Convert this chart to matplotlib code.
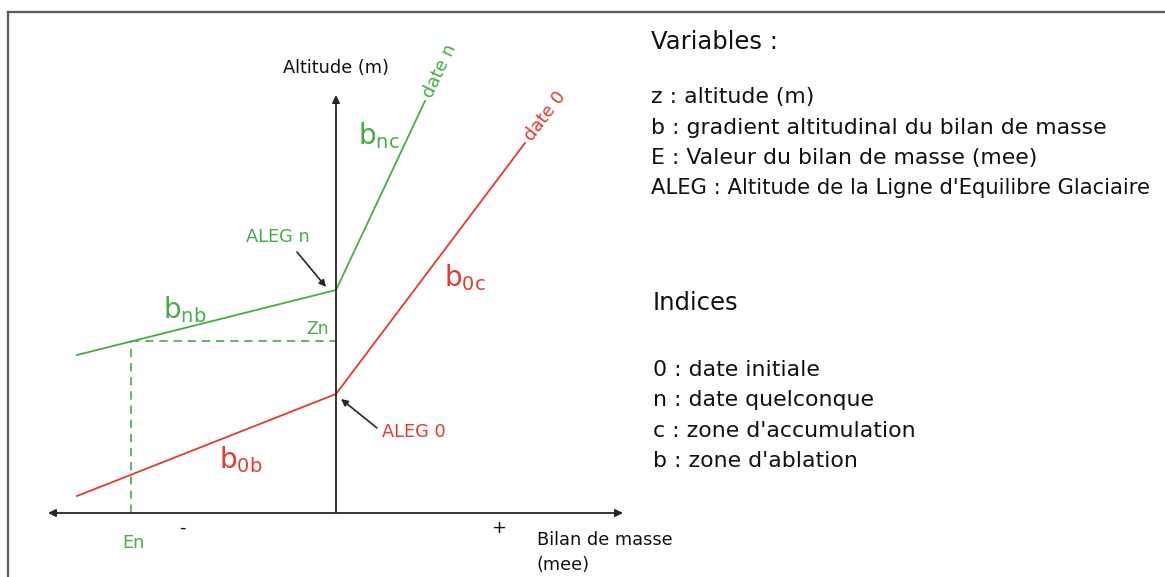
import numpy as np
import matplotlib
matplotlib.use("Agg")
import matplotlib.pyplot as plt
from matplotlib.lines import Line2D

plt.rcParams['font.family'] = ['DejaVu Sans']
plt.rcParams['mathtext.fontset'] = 'custom'
plt.rcParams['mathtext.rm'] = 'DejaVu Sans'

# ---- data (schematic units: mass balance on x, altitude on z) ----
bilan_n = [-259, 0, 89]      # date n : ablation start, ALEG n, accumulation end
alt_n = [158, 223, 412]
bilan_0 = [-259, 0, 189]     # date 0
alt_0 = [17, 119, 370]
En = -205
Zn = 172
axis_x = [-288, 287]
axis_z = [0, 418]

variables_title = "Variables :"
variables = ["z : altitude (m)",
             "b : gradient altitudinal du bilan de masse",
             "E : Valeur du bilan de masse (mee)",
             "ALEG : Altitude de la Ligne d'Equilibre Glaciaire"]
indices_title = "Indices"
indices = ["0 : date initiale", "n : date quelconque",
           "c : zone d'accumulation", "b : zone d'ablation"]

GREEN = '#46ad46'
RED = '#e33b2e'
AXC = '#262626'

W, H = 1165, 577
OX, OY = 336, 513  # pixel position of the origin

fig = plt.figure(figsize=(W / 100, H / 100), dpi=100)
ax = fig.add_axes([0, 0, 1, 1])
ax.set_xlim(-OX, W - OX)
ax.set_ylim(OY - H, OY)
ax.axis('off')


def P(px, py):
    return px - OX, OY - py


# frame border (top and left)
fig.add_artist(Line2D([8 / W, 8 / W], [0, 1 - 12 / H], color='#5a5a5a', lw=1.6,
                      transform=fig.transFigure))
fig.add_artist(Line2D([8 / W, 1], [1 - 12 / H, 1 - 12 / H], color='#5a5a5a', lw=1.6,
                      transform=fig.transFigure))

# axes
ax.annotate('', xy=(axis_x[0], 0), xytext=(axis_x[1], 0),
            arrowprops=dict(arrowstyle='<|-|>', color=AXC, lw=1.3,
                            mutation_scale=11, shrinkA=0, shrinkB=0))
ax.annotate('', xy=(0, axis_z[1]), xytext=(0, axis_z[0]),
            arrowprops=dict(arrowstyle='-|>', color=AXC, lw=1.3,
                            mutation_scale=11, shrinkA=0, shrinkB=0))

# profiles
ax.plot(bilan_n, alt_n, color=GREEN, lw=1.3, solid_joinstyle='miter')
ax.plot(bilan_0, alt_0, color=RED, lw=1.3, solid_joinstyle='miter')

# dashed guides for En / Zn
ax.plot([En, 0], [Zn, Zn], color=GREEN, lw=1.2, ls=(0, (5, 3.5)))
ax.plot([En, En], [0, Zn], color=GREEN, lw=1.2, ls=(0, (5, 3.5)))

# labels on diagram
ax.text(*P(336, 68), "Altitude (m)", ha='center', va='center', fontsize=12.8, color='#111111')
ax.text(*P(537, 540), "Bilan de masse", ha='left', va='center', fontsize=12.8, color='#111111')
ax.text(*P(537, 565), "(mee)", ha='left', va='center', fontsize=12.8, color='#111111')
ax.text(*P(182, 528), "-", ha='center', va='center', fontsize=13, color='#111111')
ax.text(*P(499, 528), "+", ha='center', va='center', fontsize=13, color='#111111')
ax.text(*P(133, 543), "En", ha='center', va='center', fontsize=12.8, color=GREEN)
ax.text(*P(318, 329), "Zn", ha='center', va='center', fontsize=12.3, color=GREEN)
ax.text(*P(278, 237), "ALEG n", ha='center', va='center', fontsize=12.8, color=GREEN)
ax.text(*P(414, 432), "ALEG 0", ha='center', va='center', fontsize=12.8, color=RED)

BIG = 20
ax.text(*P(358, 144), r'$\mathregular{b_{nc}}$', ha='left', va='baseline', fontsize=BIG, color=GREEN)
ax.text(*P(163, 318), r'$\mathregular{b_{nb}}$', ha='left', va='baseline', fontsize=BIG, color=GREEN)
ax.text(*P(444, 286), r'$\mathregular{b_{0c}}$', ha='left', va='baseline', fontsize=BIG, color=RED)
ax.text(*P(219, 468), r'$\mathregular{b_{0b}}$', ha='left', va='baseline', fontsize=BIG, color=RED)

# rotated date labels along the accumulation segments
ang_n = np.degrees(np.arctan2(alt_n[2] - alt_n[1], bilan_n[2] - bilan_n[1]))
ang_0 = np.degrees(np.arctan2(alt_0[2] - alt_0[1], bilan_0[2] - bilan_0[1]))
ax.text(bilan_n[2] + 2, alt_n[2] + 4, "date n", rotation=ang_n, rotation_mode='anchor',
        ha='left', va='center', fontsize=12.8, color=GREEN)
ax.text(bilan_0[2] + 3, alt_0[2] + 4, "date 0", rotation=ang_0, rotation_mode='anchor',
        ha='left', va='center', fontsize=12.8, color=RED)

# ALEG arrows
ax.annotate('', xy=P(326, 287), xytext=P(297, 252),
            arrowprops=dict(arrowstyle='-|>', color=AXC, lw=1.2, mutation_scale=10,
                            shrinkA=0, shrinkB=0))
ax.annotate('', xy=P(341, 399), xytext=P(377, 428),
            arrowprops=dict(arrowstyle='-|>', color=AXC, lw=1.2, mutation_scale=10,
                            shrinkA=0, shrinkB=0))

# right-hand legend text
TX = 651
ax.text(*P(TX, 42), variables_title, ha='left', va='center', fontsize=17.5, color='#111111')
for i, s in enumerate(variables):
    ax.text(*P(TX, 97 + 30.5 * i), s, ha='left', va='center',
            fontsize=15.2 if i == 3 else 15.8, color='#111111')
ax.text(*P(TX + 2, 303), indices_title, ha='left', va='center', fontsize=17.5, color='#111111')
for i, s in enumerate(indices):
    ax.text(*P(TX + 2, 370 + 30.3 * i), s, ha='left', va='center', fontsize=15.8, color='#111111')

fig.savefig('out.png', dpi=100, facecolor='white')
